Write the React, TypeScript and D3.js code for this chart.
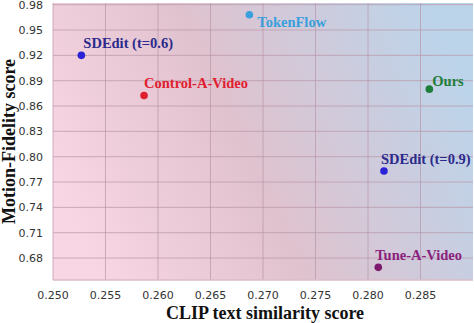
import React from "react";
import * as d3 from "d3";

const methods = ["SDEdit (t=0.6)", "Control-A-Video", "TokenFlow", "Ours", "SDEdit (t=0.9)", "Tune-A-Video"];
const clipScores = [0.2527, 0.25867, 0.2687, 0.28584, 0.28152, 0.28098];
const fidelityScores = [0.92, 0.8725, 0.968, 0.88, 0.783, 0.669];
const dotColors = ["#2b22d6", "#e0202f", "#3a9fdc", "#1e7d3a", "#2b22d6", "#7d1a6e"];
const textColors = ["#2b2a8c", "#e0202f", "#3a9fdc", "#1e7d3a", "#2b2a8c", "#8a1f7c"];
const labelOffsets: [number, number][] = [[2, -7], [0, -7], [8, 12], [3, -3], [-3, -7], [-3, -7]];
const xTicks = [0.25, 0.255, 0.26, 0.265, 0.27, 0.275, 0.28, 0.285];
const yTicks = [0.68, 0.71, 0.74, 0.77, 0.8, 0.83, 0.86, 0.89, 0.92, 0.95, 0.98];

export default function App() {
  const W = 474, H = 323;
  const left = 53, right = 473, top = 3, bottom = 280;
  const x = d3.scaleLinear().domain([0.25, 0.29]).range([left, right]);
  const y = d3.scaleLinear().domain([0.654, 0.982]).range([bottom, top]);
  const serif = "Liberation Serif, Times New Roman, Times, serif";
  const sans = "DejaVu Sans, sans-serif";
  return (
    <svg width={W} height={H} style={{ position: "absolute", left: 0, top: 0 }}>
      <defs>
        <linearGradient id="bg" x1="0" y1="0.65" x2="1" y2="0.35">
          <stop offset="0" stopColor="#f9d6e3" />
          <stop offset="0.45" stopColor="#e0c2ce" />
          <stop offset="1" stopColor="#bcd4ea" />
        </linearGradient>
      </defs>
      <rect x={0} y={0} width={W} height={H} fill="#fff" />
      <rect x={left} y={top} width={right - left} height={bottom - top} fill="url(#bg)" />
      {xTicks.map((t, i) => (
        <line key={"gx" + i} x1={x(t)} x2={x(t)} y1={top} y2={bottom} stroke="#b896a8" strokeOpacity={0.7} strokeWidth={1} />
      ))}
      {yTicks.map((t, i) => (
        <line key={"gy" + i} x1={left} x2={right} y1={y(t)} y2={y(t)} stroke="#b896a8" strokeOpacity={0.7} strokeWidth={1} />
      ))}
      <line x1={left} x2={right} y1={bottom} y2={bottom} stroke="#d8bcc8" strokeWidth={1.5} />
      {xTicks.map((t, i) => (
        <text key={"tx" + i} x={x(t)} y={299} textAnchor="middle" style={{ fontFamily: sans, fontSize: "11px" }} fill="#333">
          {d3.format(".3f")(t)}
        </text>
      ))}
      {yTicks.map((t, i) => (
        <text key={"ty" + i} x={43} y={y(t) + 4} textAnchor="end" style={{ fontFamily: sans, fontSize: "11px" }} fill="#333">
          {d3.format(".2f")(t)}
        </text>
      ))}
      {methods.map((m, i) => (
        <g key={m}>
          <circle cx={x(clipScores[i])} cy={y(fidelityScores[i])} r={3.8} fill={dotColors[i]} />
          <text
            x={x(clipScores[i]) + labelOffsets[i][0]}
            y={y(fidelityScores[i]) + labelOffsets[i][1]}
            style={{ fontFamily: serif, fontWeight: "bold", fontSize: "14.5px" }}
            fill={textColors[i]}
          >
            {m}
          </text>
        </g>
      ))}
      <text x={265} y={319} textAnchor="middle" style={{ fontFamily: serif, fontWeight: "bold", fontSize: "18px" }} fill="#111">
        CLIP text similarity score
      </text>
      <text
        transform={`translate(15, ${(top + bottom) / 2}) rotate(-90)`}
        textAnchor="middle"
        style={{ fontFamily: serif, fontWeight: "bold", fontSize: "18px" }}
        fill="#111"
      >
        Motion-Fidelity score
      </text>
    </svg>
  );
}
